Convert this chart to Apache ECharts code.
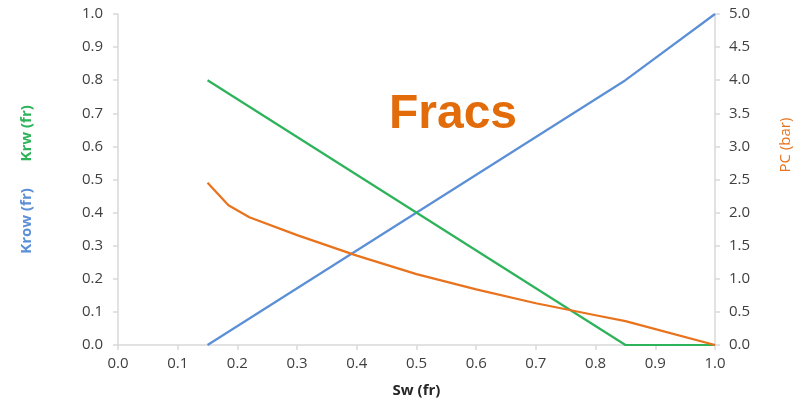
<!DOCTYPE html>
<html><head><meta charset="utf-8">
<script src="https://cdn.jsdelivr.net/npm/echarts@6/dist/echarts.min.js"></script>
<style>html,body{margin:0;padding:0;background:#fff}#c{width:805px;height:404px}</style>
</head><body><div id="c"></div>
<script>
const xTicks = [0.0,0.1,0.2,0.3,0.4,0.5,0.6,0.7,0.8,0.9,1.0];
const krowSw = [0.15, 0.85, 1.0];
const krowVal = [0.0, 0.8, 1.0];
const krwSw = [0.15, 0.85, 1.0];
const krwVal = [0.8, 0.0, 0.0];
const pcSw = [0.15, 0.185, 0.22, 0.3, 0.4, 0.5, 0.6, 0.7, 0.8, 0.85, 1.0];
const pcVal = [2.45, 2.11, 1.93, 1.66, 1.35, 1.07, 0.84, 0.63, 0.45, 0.36, 0.0];

const pair = (xs, ys) => xs.map((x, i) => [x, ys[i]]);
const font = 'Open Sans';
const labelStyle = {color:'#404040', fontSize:15, fontFamily:font};
const axisLine = {show:true, lineStyle:{color:'#d9d9d9', width:1.5}};
const axisTick = {show:true, length:5, lineStyle:{color:'#d9d9d9', width:1.5}};

const chart = echarts.init(document.getElementById('c'), null, {renderer:'canvas'});
chart.setOption({
  animation:false,
  backgroundColor:'#fff',
  title:{text:'Fracs', left:448, top:86, textAlign:'center',
    textStyle:{color:'#E36C0A', fontSize:48, fontWeight:'bold', fontFamily:'Liberation Sans'}},
  grid:{left:118, right:90, top:14, bottom:59},
  xAxis:{type:'value', min:0, max:1, interval:0.1,
    name:'Sw (fr)', nameLocation:'middle', nameGap:38,
    nameTextStyle:{color:'#262626', fontSize:15, fontWeight:'bold', fontFamily:font},
    axisLine, axisTick, splitLine:{show:false},
    axisLabel:Object.assign({margin:11, formatter:v=>v.toFixed(1)}, labelStyle)},
  yAxis:[
    {type:'value', min:0, max:1, interval:0.1, position:'left',
     name:'{a|Krow (fr)}        {b|Krw (fr)}', nameLocation:'middle', nameGap:84, nameRotate:90,
     nameTextStyle:{rich:{
       a:{color:'#5B8FD6', fontSize:15, fontWeight:'bold', fontFamily:font},
       b:{color:'#2DB35A', fontSize:15, fontWeight:'bold', fontFamily:font}}},
     axisLine, axisTick, splitLine:{show:false},
     axisLabel:Object.assign({margin:15, formatter:v=>v.toFixed(1)}, labelStyle)},
    {type:'value', min:0, max:5, interval:0.5, position:'right',
     axisLine, axisTick, splitLine:{show:false},
     axisLabel:Object.assign({margin:14, formatter:v=>v.toFixed(1)}, labelStyle)}
  ],
  graphic:[{type:'text', x:786, y:145, rotation:Math.PI/2,
    style:{text:'PC (bar)', fill:'#E8731C', font:'15px "Open Sans"', align:'center', verticalAlign:'middle'}}],
  series:[
    {name:'Krow', type:'line', yAxisIndex:0, data:pair(krowSw, krowVal), showSymbol:false,
     lineStyle:{color:'#5B8FD6', width:2.2}, itemStyle:{color:'#5B8FD6'}},
    {name:'Krw', type:'line', yAxisIndex:0, data:pair(krwSw, krwVal), showSymbol:false,
     lineStyle:{color:'#2DB35A', width:2.2}, itemStyle:{color:'#2DB35A'}},
    {name:'PC', type:'line', yAxisIndex:1, data:pair(pcSw, pcVal), showSymbol:false,
     lineStyle:{color:'#E8731C', width:2.2}, itemStyle:{color:'#E8731C'}}
  ]
});
</script>
</body></html>
